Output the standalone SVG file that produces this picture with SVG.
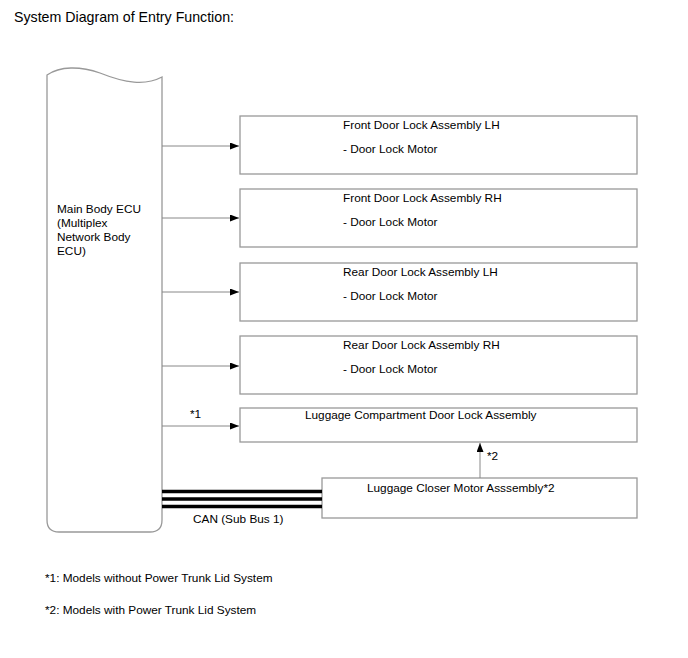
<svg xmlns="http://www.w3.org/2000/svg" width="688" height="658" viewBox="0 0 688 658">
<defs>
<marker id="ah" markerWidth="9" markerHeight="7" refX="9" refY="3.5" orient="auto" markerUnits="userSpaceOnUse">
<path d="M0,0 L9,3.5 L0,7 Z" fill="#000"/>
</marker>
<style>
text{font-family:"Liberation Sans",Arial,sans-serif;font-size:11.8px;fill:#000}
.title{font-size:14.2px}
.box{fill:#fff;stroke:#999;stroke-width:1.3}
.conn{stroke:#888;stroke-width:1;fill:none}
.can{stroke:#000;stroke-width:3.5;fill:none}
</style>
</defs>
<rect width="688" height="658" fill="#fff"/>
<text class="title" x="14" y="22">System Diagram of Entry Function:</text>

<g id="ecu">
<path class="box" d="M47,75 C60,66 80,66 100,73 C125,83 145,86 162,77 L162,520 Q162,532 150,532 L59,532 Q47,532 47,520 Z"/>
<text x="57" y="213">Main Body ECU</text>
<text x="57" y="227">(Multiplex</text>
<text x="57" y="241">Network Body</text>
<text x="57" y="255">ECU)</text>
</g>

<g id="fl">
<rect class="box" x="240" y="116" width="397" height="58"/>
<text x="343" y="129">Front Door Lock Assembly LH</text>
<text x="343" y="153">- Door Lock Motor</text>
</g>
<g id="fr">
<rect class="box" x="240" y="189" width="397" height="58"/>
<text x="343" y="202">Front Door Lock Assembly RH</text>
<text x="343" y="226">- Door Lock Motor</text>
</g>
<g id="rl">
<rect class="box" x="240" y="263" width="397" height="58"/>
<text x="343" y="276">Rear Door Lock Assembly LH</text>
<text x="343" y="300">- Door Lock Motor</text>
</g>
<g id="rr">
<rect class="box" x="240" y="336" width="397" height="58"/>
<text x="343" y="349">Rear Door Lock Assembly RH</text>
<text x="343" y="373">- Door Lock Motor</text>
</g>
<g id="lug">
<rect class="box" x="240" y="408" width="397" height="34"/>
<text x="305" y="419">Luggage Compartment Door Lock Assembly</text>
</g>
<g id="closer">
<rect class="box" x="322" y="478" width="315" height="40"/>
<text x="367" y="492">Luggage Closer Motor Asssembly*2</text>
</g>

<g id="connectors">
<line class="conn" x1="162" y1="146" x2="239" y2="146" marker-end="url(#ah)"/>
<line class="conn" x1="162" y1="218" x2="239" y2="218" marker-end="url(#ah)"/>
<line class="conn" x1="162" y1="292" x2="239" y2="292" marker-end="url(#ah)"/>
<line class="conn" x1="162" y1="366" x2="239" y2="366" marker-end="url(#ah)"/>
<line class="conn" x1="162" y1="426" x2="239" y2="426" marker-end="url(#ah)"/>
<text x="190" y="418">*1</text>
<line class="conn" x1="480" y1="478" x2="480" y2="443" marker-end="url(#ah)"/>
<text x="487" y="460">*2</text>
<line class="can" x1="162" y1="491.5" x2="322" y2="491.5"/>
<line class="can" x1="162" y1="499" x2="322" y2="499"/>
<line class="can" x1="162" y1="506.5" x2="322" y2="506.5"/>
<text x="193" y="523">CAN (Sub Bus 1)</text>
</g>

<text x="45" y="582">*1: Models without Power Trunk Lid System</text>
<text x="45" y="614">*2: Models with Power Trunk Lid System</text>
</svg>
